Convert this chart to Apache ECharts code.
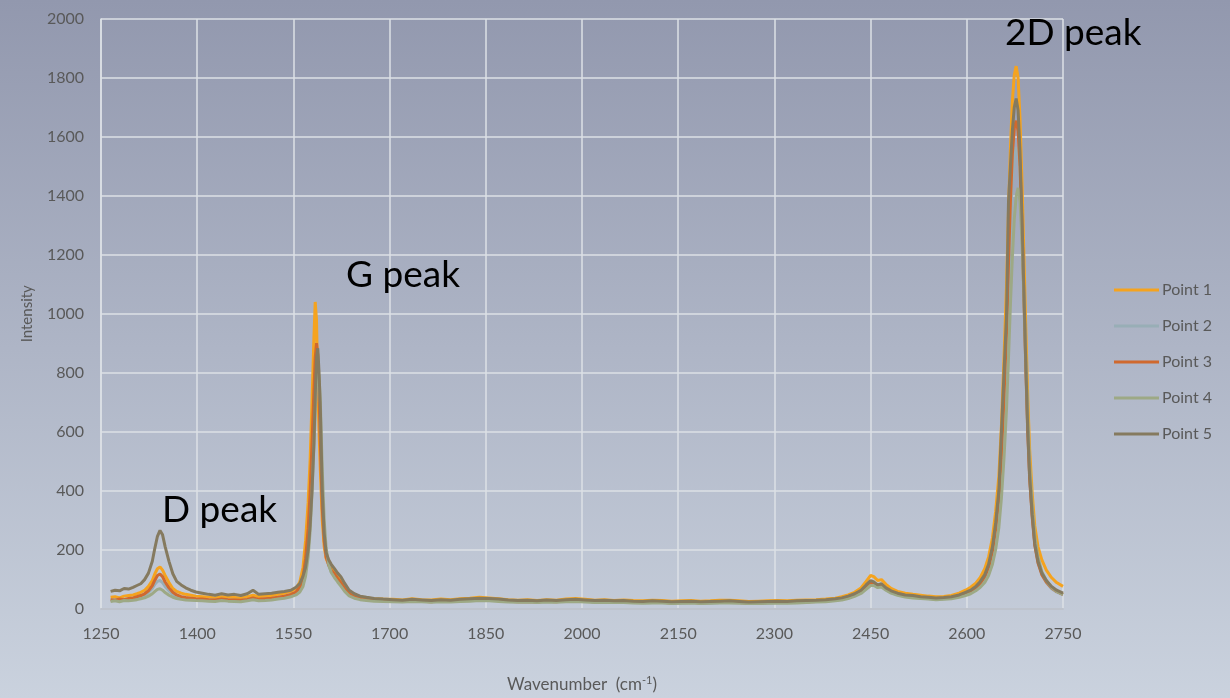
<!DOCTYPE html>
<html>
<head>
<meta charset="utf-8">
<script src="https://cdn.jsdelivr.net/npm/echarts@6/dist/echarts.min.js"></script>
<style>
html,body{margin:0;padding:0;}
#chart{width:1230px;height:698px;background:linear-gradient(to bottom,#9298AE 0%,#CAD2DE 100%);}
</style>
</head>
<body>
<div id="chart"></div>
<script>
// Wavenumber (cm^-1) sample positions shared by all series
var wavenumbers = [
 1265,1272,1279,1286,1293,1300,1306,1312,1318,1324,1330,1334,1338,1342,1346,1350,1356,1362,1368,1375,1382,1390,1398,
 1408,1418,1428,1438,1448,1458,1468,1478,1487,1496,1506,1516,1526,1536,1546,1554,1560,1565,1569,1573,1576,1579,1582,1584,1586,1588,1590,1592,1595,1598,1601,1605,1609,1614,1619,1624,1630,1637,1645,1654,1664,1676,1690,
 1705,1720,1735,1750,1765,1780,1795,1810,1825,1840,1855,1870,1885,1900,1915,1930,1945,1960,1975,1990,2005,2020,2035,2050,2065,2080,2095,2110,2125,2140,2155,2170,2185,2200,2215,2230,2245,2260,2275,2290,2305,2320,2335,2350,2365,2380,2395,
 2405,2415,2425,2435,2443,2450,2455,2461,2467,2474,2482,2492,2504,2516,2528,2540,2552,2564,2576,2588,2598,2606,2614,2621,2628,2634,2640,2645,2650,2654,2658,2662,2665,2668,2671,2674,2677,2680,2683,2686,2689,2692,2695,2698,2702,2706,2711,2717,2724,2732,2740,2750
];
var seriesNames = ['Point 1','Point 2','Point 3','Point 4','Point 5'];
var point1 = [
 38,40,36,42,44,46,50,55,62,75,95,118,135,141,130,112,88,68,58,52,48,45,42,
 40,38,36,40,38,37,36,40,45,40,42,44,48,52,58,68,90,140,230,360,500,700,920,1040,980,760,600,470,300,210,170,150,135,125,110,95,75,55,45,40,36,33,32,
 31,29,33,30,29,32,30,33,35,38,36,33,30,28,30,27,30,28,32,34,31,28,30,27,29,27,26,28,27,25,26,27,25,26,28,28,26,24,25,26,27,26,28,29,30,32,35,
 40,46,55,70,92,112,108,95,98,82,68,58,52,48,45,42,40,41,44,52,62,72,86,105,135,175,240,330,450,620,850,1100,1350,1560,1720,1810,1840,1800,1660,1450,1200,950,720,540,390,280,210,165,130,105,88,75
];
var point2 = [
 28,30,27,31,30,33,36,40,45,54,68,82,92,95,88,75,60,48,41,37,34,33,31,
 30,29,28,31,29,28,27,30,34,30,31,33,36,40,45,52,65,92,145,235,350,510,690,800,850,840,740,600,380,250,180,145,125,112,98,84,65,48,39,34,30,28,26,
 25,26,24,26,24,25,26,25,28,30,29,28,24,24,23,23,24,24,25,26,26,22,23,23,22,22,21,21,22,20,19,20,20,19,20,21,21,19,18,19,20,21,21,22,25,25,28,
 31,36,44,55,70,84,82,74,76,64,54,47,41,38,36,34,32,33,36,41,48,55,66,80,100,128,175,240,335,465,650,860,1070,1280,1440,1530,1565,1540,1440,1260,1040,810,600,440,310,215,155,115,88,68,56,46
];
var point3 = [
 30,28,32,30,34,36,40,44,50,60,78,96,112,117,108,90,70,55,46,40,37,35,33,
 32,30,29,32,30,29,28,31,36,31,33,35,38,42,48,56,72,105,170,270,390,560,740,850,900,860,720,560,340,230,175,148,130,118,102,88,68,50,40,35,31,28,27,
 26,24,27,25,23,26,24,27,29,31,30,27,25,23,24,22,25,23,26,27,25,23,24,22,23,21,20,22,21,19,20,21,19,20,21,22,20,18,19,20,21,20,22,23,24,26,29,
 32,38,45,57,74,88,85,76,79,66,56,48,42,40,37,35,33,34,37,43,51,58,70,86,108,140,195,270,375,520,720,940,1170,1380,1540,1630,1655,1620,1500,1300,1060,820,600,440,310,215,155,115,90,70,58,48
];
var point4 = [
 24,26,23,27,26,28,30,33,36,42,50,58,65,67,62,54,45,38,34,31,29,28,27,
 26,25,24,27,25,24,23,26,30,26,27,29,32,35,40,46,56,75,110,175,260,390,550,670,760,800,790,700,470,300,205,150,122,105,90,76,58,43,35,30,27,25,24,
 23,22,24,23,21,23,22,24,25,27,26,24,22,21,22,20,22,21,23,24,22,20,21,20,20,19,18,19,19,17,18,19,17,18,19,19,18,17,17,18,18,18,19,20,22,23,26,
 29,34,41,51,65,78,78,71,73,62,52,45,39,36,34,32,30,31,33,38,44,50,60,72,88,112,150,200,275,375,510,680,850,1030,1190,1320,1400,1427,1380,1250,1070,860,660,490,350,245,175,125,95,72,58,48
];
var point5 = [
 58,62,60,68,66,72,78,84,98,120,160,205,245,265,250,210,160,118,92,80,70,62,56,
 52,48,45,50,46,48,44,50,62,48,50,52,55,58,62,72,85,110,140,200,280,400,560,720,850,883,800,680,400,255,190,165,150,135,120,108,85,62,50,42,38,34,32,
 30,28,31,29,27,30,28,31,33,35,34,32,29,27,28,26,29,27,30,31,29,27,28,26,27,25,24,26,25,23,24,25,23,24,25,26,24,22,23,24,25,24,26,27,28,30,33,
 36,42,50,62,80,95,90,80,84,70,60,52,46,44,40,38,36,37,40,46,55,62,75,92,115,150,210,290,400,600,800,1000,1380,1500,1620,1700,1730,1690,1550,1330,1080,830,610,450,320,220,160,120,95,75,62,52
];
var xTicks = {min:1250, max:2750, interval:150};
var yTicks = {min:0, max:2000, interval:200};
var colors = ['#F5A31E','#98AEB6','#D0692E','#9DA985','#857A5F'];

var allValues = [point1, point2, point3, point4, point5];
function pairs(vals){ return wavenumbers.map(function(w,i){ return [w, vals[i]]; }); }
function plain(v){ return String(v); }

var FONT = 'Lato, "Open Sans", sans-serif';
var chart = echarts.init(document.getElementById('chart'), null, {renderer:'canvas'});
var series = allValues.map(function(v, i){
  return {
    name: seriesNames[i], type:'line', data: pairs(v),
    showSymbol:false, symbol:'none', smooth:false,
    lineStyle:{width:3, color:colors[i]}, itemStyle:{color:colors[i]},
    z: 2 + i
  };
});
chart.setOption({
  animation:false,
  backgroundColor:'transparent',
  color: colors,
  grid:{left:101, top:19, right:167, bottom:83},
  legend:{
    orient:'vertical', left:1109, top:277, icon:'rect', itemWidth:45, itemHeight:3, itemGap:20,
    textStyle:{fontFamily:FONT, fontSize:16, color:'#595959', padding:[0,0,0,-2]},
    data: seriesNames
  },
  xAxis:{
    type:'value', min:xTicks.min, max:xTicks.max, interval:xTicks.interval,
    name:'Wavenumber  (cm{sup|-1})', nameLocation:'middle', nameGap:66,
    nameTextStyle:{fontFamily:FONT, fontSize:17, color:'#595959',
      rich:{sup:{fontFamily:FONT, fontSize:11, color:'#595959', padding:[0,0,9,0]}}},
    axisLine:{show:true, lineStyle:{color:'#BEC3CC', width:2}},
    axisTick:{show:false},
    axisLabel:{fontFamily:FONT, fontSize:16, color:'#595959', margin:17, formatter:plain},
    splitLine:{show:true, lineStyle:{color:'#DDE0E6', width:1.5}}
  },
  yAxis:{
    type:'value', min:yTicks.min, max:yTicks.max, interval:yTicks.interval,
    name:'Intensity', nameLocation:'middle', nameGap:66, nameRotate:90,
    nameTextStyle:{fontFamily:FONT, fontSize:15, color:'#595959'},
    axisLine:{show:true, lineStyle:{color:'#DDE0E6', width:1.5}},
    axisTick:{show:false},
    axisLabel:{fontFamily:FONT, fontSize:16, color:'#595959', margin:17, formatter:plain},
    splitLine:{show:true, lineStyle:{color:'#DDE0E6', width:1.5}}
  },
  graphic:[
    {type:'text', left:162, top:492, z:100, style:{text:'D peak', fontFamily:FONT, fontSize:37, fill:'#000'}},
    {type:'text', left:346, top:257, z:100, style:{text:'G peak', fontFamily:FONT, fontSize:37, fill:'#000'}},
    {type:'text', left:1005, top:15, z:100, style:{text:'2D peak', fontFamily:FONT, fontSize:37, fill:'#000'}}
  ],
  series: series
});
</script>
</body>
</html>
